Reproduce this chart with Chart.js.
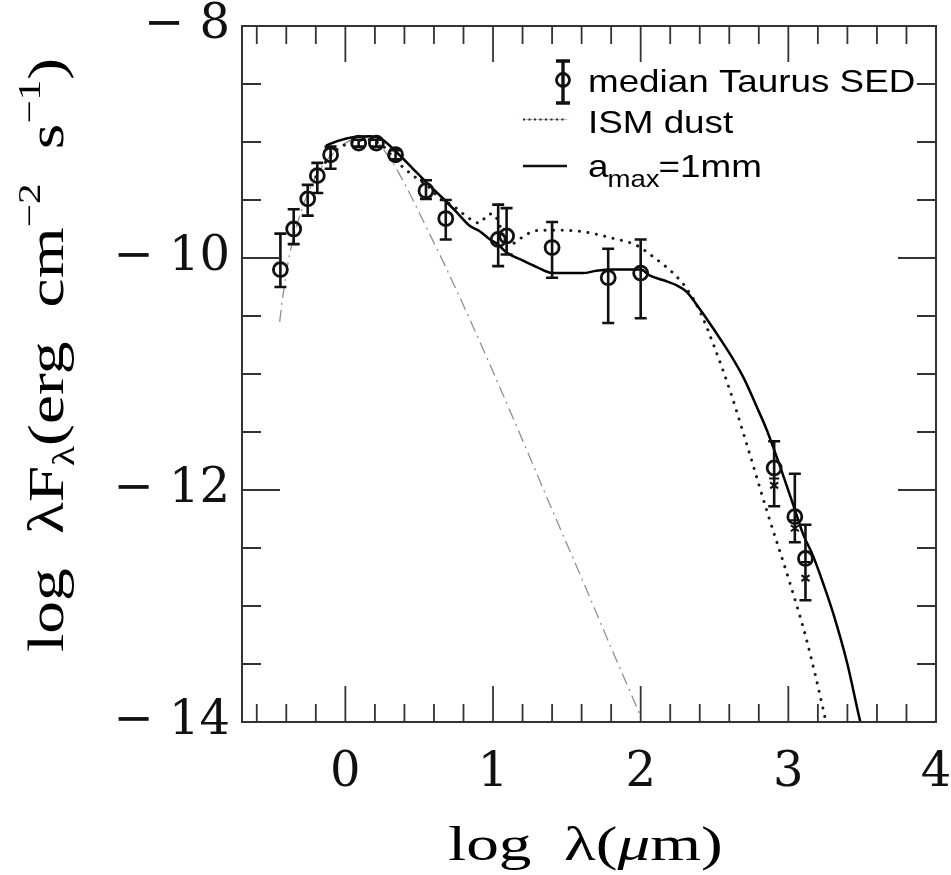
<!DOCTYPE html>
<html><head><meta charset="utf-8">
<script src="https://cdn.jsdelivr.net/npm/chart.js@4.4.0/dist/chart.umd.min.js"></script>
<style>html,body{margin:0;padding:0;background:#fff;}#wrap{width:951px;height:875px;position:relative;}</style>
</head><body><div id="wrap"><canvas id="c" width="951" height="875"></canvas></div>
<script>
// ---- data (log lambda [um], log lambda F_lambda) ----
const sedX  = [-0.44, -0.35, -0.255, -0.19, -0.10, 0.09, 0.21, 0.34, 0.546, 0.68, 1.035, 1.092, 1.40, 1.78, 2.00, 2.904, 3.044, 3.116];
const sedY  = [-10.10, -9.75, -9.49, -9.29, -9.11, -9.01, -9.01, -9.11, -9.42, -9.66, -9.84, -9.81, -9.91, -10.17, -10.13, -11.81, -12.23, -12.59];
const sedHi = [-9.79, -9.58, -9.37, -9.18, -9.04, -8.98, -8.98, -9.07, -9.33, -9.50, -9.54, -9.57, -9.69, -9.92, -9.84, -11.58, -11.86, -12.30];
const sedLo = [-10.25, -9.88, -9.635, -9.44, -9.23, -9.04, -9.04, -9.15, -9.49, -9.84, -10.07, -9.97, -10.17, -10.56, -10.52, -12.14, -12.45, -12.95];
// secondary (inner) error caps seen on the submm points
const subX  = [2.904, 3.044, 3.116];
const subHi = [-11.90, -12.26, -12.62];
const subLo = [-11.96, -12.33, -12.76];

const photX = [-0.445, -0.42, -0.39, -0.36, -0.30, -0.20, -0.10, 0.00, 0.10, 0.20, 0.25, 0.30, 0.35, 0.45, 0.55, 0.65, 0.75, 0.85, 1.00, 1.20, 1.40, 1.60, 1.80, 2.00];
const photY = [-10.55, -10.30, -10.05, -9.87, -9.60, -9.30, -9.12, -9.01, -8.96, -8.98, -9.05, -9.14, -9.24, -9.48, -9.74, -10.00, -10.27, -10.55, -10.98, -11.57, -12.17, -12.76, -13.36, -13.95];

const ismX = [-0.20, -0.12, -0.05, 0.05, 0.15, 0.25, 0.35, 0.48, 0.55, 0.62, 0.75, 0.84, 0.91, 0.96, 1.00, 1.04, 1.08, 1.12, 1.20, 1.27, 1.36, 1.59, 1.81, 1.97, 2.085, 2.22, 2.265, 2.31, 2.401, 2.491, 2.604, 2.717, 2.852, 3.010, 3.123, 3.246, 3.27];
const ismY = [-9.30, -9.15, -9.06, -9.00, -8.98, -9.03, -9.17, -9.31, -9.37, -9.46, -9.57, -9.66, -9.70, -9.63, -9.62, -9.70, -9.85, -9.88, -9.82, -9.77, -9.76, -9.77, -9.83, -9.89, -9.99, -10.13, -10.19, -10.26, -10.46, -10.74, -11.14, -11.60, -12.17, -12.80, -13.29, -13.95, -14.1];

const mmX = [-0.13, -0.05, 0.05, 0.17, 0.25, 0.34, 0.45, 0.55, 0.66, 0.75, 0.84, 0.91, 0.98, 1.04, 1.09, 1.20, 1.30, 1.40, 1.50, 1.61, 1.70, 1.81, 1.90, 2.00, 2.06, 2.15, 2.25, 2.31, 2.40, 2.45, 2.54, 2.63, 2.70, 2.785, 2.85, 2.92, 2.98, 3.044, 3.10, 3.168, 3.24, 3.303, 3.40, 3.484, 3.52];
const mmY = [-9.03, -8.99, -8.96, -8.95, -8.98, -9.08, -9.22, -9.35, -9.485, -9.60, -9.72, -9.77, -9.84, -9.89, -9.95, -10.02, -10.08, -10.13, -10.13, -10.13, -10.11, -10.10, -10.10, -10.10, -10.15, -10.19, -10.24, -10.29, -10.44, -10.53, -10.70, -10.88, -11.04, -11.28, -11.47, -11.71, -11.93, -12.17, -12.38, -12.57, -12.82, -13.06, -13.50, -13.98, -14.15];

const xTickValues = [0, 1, 2, 3, 4];
const xTickLabels = ['0', '1', '2', '3', '4'];
const yTickValues = [-14, -12, -10, -8];
const yTickLabels = ['\u2212 14', '\u2212 12', '\u2212 10', '\u2212 8'];
const xMinorTicks = [-0.6, -0.4, -0.2, 0.2, 0.4, 0.6, 0.8, 1.2, 1.4, 1.6, 1.8, 2.2, 2.4, 2.6, 2.8, 3.2, 3.4, 3.6, 3.8];
const xMajorTicks = [0, 1, 2, 3];
const yMinorTicks = [-13.5, -13, -12.5, -11.5, -11, -10.5, -9.5, -9, -8.5];
const yMajorTicks = [-14, -12, -10, -8];

const legendLabels = ['median Taurus SED', 'ISM dust', 'a', 'max', '=1mm'];

function pts(xs, ys) { return xs.map((x, i) => ({x: x, y: ys[i]})); }

const INK = '#111';
const SERIF = '"Liberation Serif", "DejaVu Serif", serif';

const decor = {
  id: 'decor',
  afterDatasetsDraw(chart) {
    const ctx = chart.ctx, xs = chart.scales.x, ys = chart.scales.y;
    const L = xs.left, R = xs.right, T = ys.top, B = ys.bottom;
    ctx.save();
    // error bars
    ctx.strokeStyle = INK; ctx.lineWidth = 2.6; ctx.lineCap = 'butt';
    for (let i = 0; i < sedX.length; i++) {
      const px = xs.getPixelForValue(sedX[i]);
      const ph = ys.getPixelForValue(sedHi[i]);
      const pl = ys.getPixelForValue(sedLo[i]);
      ctx.beginPath();
      ctx.moveTo(px, ph); ctx.lineTo(px, pl);
      ctx.moveTo(px - 6, ph); ctx.lineTo(px + 6, ph);
      ctx.moveTo(px - 6, pl); ctx.lineTo(px + 6, pl);
      ctx.stroke();
    }
    ctx.lineWidth = 2;
    for (let i = 0; i < subX.length; i++) {
      const px = xs.getPixelForValue(subX[i]);
      const ph = ys.getPixelForValue(subHi[i]);
      const pl = ys.getPixelForValue(subLo[i]);
      ctx.beginPath();
      ctx.moveTo(px - 5, ph); ctx.lineTo(px + 5, ph);
      ctx.moveTo(px - 4, pl - 3); ctx.lineTo(px + 4, pl + 3);
      ctx.moveTo(px + 4, pl - 3); ctx.lineTo(px - 4, pl + 3);
      ctx.stroke();
    }
    // frame
    ctx.strokeStyle = '#333'; ctx.lineWidth = 2;
    ctx.strokeRect(L, T, R - L, B - T);
    // ticks
    ctx.lineWidth = 1.8;
    ctx.beginPath();
    xMinorTicks.forEach(v => { const p = xs.getPixelForValue(v); ctx.moveTo(p, B); ctx.lineTo(p, B - 18); ctx.moveTo(p, T); ctx.lineTo(p, T + 18); });
    xMajorTicks.forEach(v => { const p = xs.getPixelForValue(v); ctx.moveTo(p, B); ctx.lineTo(p, B - 36); ctx.moveTo(p, T); ctx.lineTo(p, T + 36); });
    yMinorTicks.forEach(v => { const p = ys.getPixelForValue(v); ctx.moveTo(L, p); ctx.lineTo(L + 19, p); ctx.moveTo(R, p); ctx.lineTo(R - 19, p); });
    yMajorTicks.forEach(v => { const p = ys.getPixelForValue(v); ctx.moveTo(L, p); ctx.lineTo(L + 38, p); ctx.moveTo(R, p); ctx.lineTo(R - 38, p); });
    ctx.stroke();

    // legend
    ctx.strokeStyle = INK; ctx.fillStyle = INK;
    ctx.lineWidth = 3.4;
    ctx.beginPath();
    ctx.moveTo(563, 61); ctx.lineTo(563, 103);
    ctx.moveTo(556, 61); ctx.lineTo(570, 61);
    ctx.moveTo(556, 103); ctx.lineTo(570, 103);
    ctx.stroke();
    ctx.lineWidth = 2.8;
    ctx.beginPath(); ctx.arc(563, 80, 6.5, 0, Math.PI * 2); ctx.stroke();
    ctx.strokeStyle = '#6fd0f0'; ctx.lineWidth = 1;
    ctx.beginPath(); ctx.moveTo(523, 119.5); ctx.lineTo(567, 119.5); ctx.stroke();
    ctx.fillStyle = '#1b2a3a';
    for (let xx = 524; xx <= 567; xx += 5.5) { ctx.fillRect(xx - 1, 118.5, 2, 2); }
    ctx.strokeStyle = INK; ctx.lineWidth = 2.4;
    ctx.beginPath(); ctx.moveTo(523, 166); ctx.lineTo(567, 166); ctx.stroke();

    ctx.fillStyle = '#000';
    ctx.textBaseline = 'alphabetic'; ctx.textAlign = 'left';
    const sx = 1.15;
    function stext(t, x, y, size) {
      ctx.save(); ctx.translate(x, y); ctx.scale(sx, 1);
      ctx.font = size + 'px "Liberation Sans", Arial, sans-serif';
      ctx.fillText(t, 0, 0);
      const w = ctx.measureText(t).width * sx;
      ctx.restore();
      return w;
    }
    stext(legendLabels[0], 588, 92, 32);
    stext(legendLabels[1], 588, 133, 32);
    let xx = 588;
    xx += stext(legendLabels[2], xx, 177, 32);
    xx += stext(legendLabels[3], xx - 1, 187, 24);
    stext(legendLabels[4], xx - 2, 177, 32);

    // x title
    ctx.save();
    ctx.translate(448, 860); ctx.scale(1.36, 1);
    ctx.font = '48px ' + SERIF;
    ctx.fillText('log', 0, 0);
    let w = ctx.measureText('log').width + 24;
    ctx.fillText('\u03bb(', w, 0);
    w += ctx.measureText('\u03bb(').width;
    ctx.font = 'italic 48px ' + SERIF;
    ctx.fillText('\u03bc', w, 0);
    w += ctx.measureText('\u03bc').width;
    ctx.font = '48px ' + SERIF;
    ctx.fillText('m)', w, 0);
    ctx.restore();

    // y title (rotated), spans y = 652 (start) .. 58 (end)
    const F = 46, SF = 29, GAP = 24;
    const parts = [
      ['log', F, 0, GAP], ['\u03bbF', F, 0, 0], ['\u03bb', SF, 10, 0], ['(erg', F, 0, GAP],
      ['cm', F, 0, 0], ['\u22122', SF, -21, GAP], ['s', F, 0, 0], ['\u22121', SF, -21, 0], [')', F, 0, 0]
    ];
    let nat = 0;
    parts.forEach(p => { ctx.font = p[1] + 'px ' + SERIF; nat += ctx.measureText(p[0]).width + p[3]; });
    const sLen = (652 - 58) / nat;
    ctx.save();
    ctx.translate(63, 652); ctx.rotate(-Math.PI / 2); ctx.scale(sLen, 1.1);
    let u = 0;
    parts.forEach(p => { ctx.font = p[1] + 'px ' + SERIF; ctx.fillText(p[0], u, p[2]); u += ctx.measureText(p[0]).width + p[3]; });
    ctx.restore();

    ctx.restore();
  }
};

new Chart(document.getElementById('c'), {
  type: 'line',
  data: {
    datasets: [
      { label: 'photosphere', data: pts(photX, photY), borderColor: '#909090', borderWidth: 1.3, borderDash: [12, 5, 2, 5], pointRadius: 0, cubicInterpolationMode: 'monotone', fill: false, order: 4 },
      { label: 'ISM dust', data: pts(ismX, ismY), borderColor: '#1a1a1a', borderWidth: 3, borderDash: [0.1, 8.5], borderCapStyle: 'round', pointRadius: 0, cubicInterpolationMode: 'monotone', fill: false, order: 3 },
      { label: 'a_max=1mm', data: pts(mmX, mmY), borderColor: '#000', borderWidth: 2.5, pointRadius: 0, cubicInterpolationMode: 'monotone', fill: false, order: 2 },
      { label: 'median Taurus SED', type: 'scatter', data: pts(sedX, sedY), showLine: false, pointRadius: 7, pointBorderWidth: 2.8, pointBorderColor: INK, pointBackgroundColor: 'rgba(0,0,0,0)', order: 1 }
    ]
  },
  options: {
    responsive: false, animation: false, devicePixelRatio: 1,
    parsing: false,
    layout: { padding: { top: 26, right: 15, left: 0, bottom: 0 } },
    plugins: { legend: { display: false }, tooltip: { enabled: false }, title: { display: false } },
    scales: {
      x: {
        type: 'linear', min: -0.7, max: 4,
        grid: { display: false, drawTicks: false }, border: { display: false },
        ticks: { font: { family: '"DejaVu Serif", serif', size: 48, lineHeight: 1 }, color: '#111', padding: 28, maxRotation: 0,
          callback: (v) => { const i = xTickValues.indexOf(v); return i >= 0 ? xTickLabels[i] : ''; } },
        afterBuildTicks: s => { s.ticks = xTickValues.map(v => ({ value: v })); },
        afterFit: s => { s.height = 153; s.paddingLeft = 0; s.paddingRight = 0; }
      },
      y: {
        type: 'linear', min: -14, max: -8,
        grid: { display: false, drawTicks: false }, border: { display: false },
        ticks: { font: { family: '"DejaVu Serif", serif', size: 48, lineHeight: 1 }, color: '#111', padding: 12,
          callback: (v) => { const i = yTickValues.indexOf(v); return i >= 0 ? yTickLabels[i] : ''; } },
        afterBuildTicks: s => { s.ticks = yTickValues.map(v => ({ value: v })); },
        afterFit: s => { s.width = 242; s.paddingTop = 0; s.paddingBottom = 0; }
      }
    }
  },
  plugins: [decor]
});
</script></body></html>
